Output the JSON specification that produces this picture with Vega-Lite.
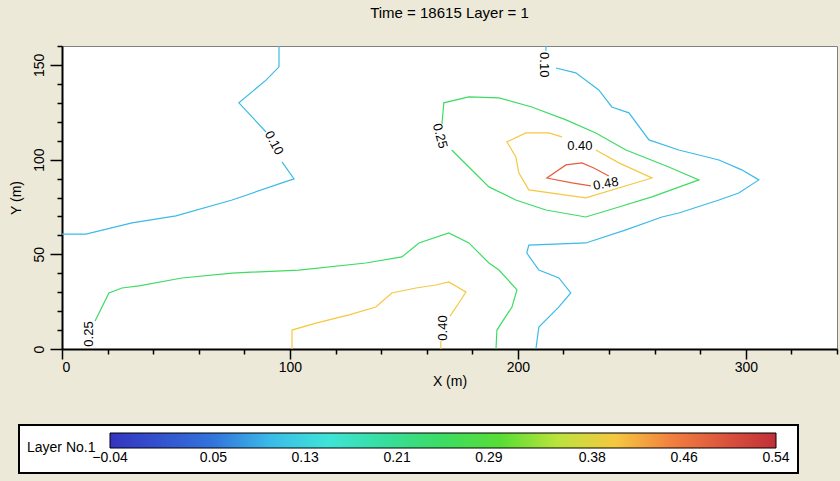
{
  "$schema": "https://vega.github.io/schema/vega-lite/v6.json",
  "autosize": {"type": "none"},
  "width": 775,
  "height": 303,
  "padding": {"left": 62, "top": 46, "right": 3, "bottom": 132},
  "background": "#ece9d8",
  "title": {"text": "Time = 18615 Layer = 1", "anchor": "middle", "offset": 24, "fontSize": 15, "fontWeight": "normal", "font": "Liberation Sans", "color": "black"},
  "config": {
    "view": {"stroke": "#808080", "strokeWidth": 1, "fill": "white"},
    "axis": {"labelFont": "Liberation Sans", "titleFont": "Liberation Sans", "labelColor": "black", "titleColor": "black", "labelFontSize": 14, "titleFontSize": 14, "titleFontWeight": "normal", "domainColor": "black", "domainWidth": 2, "tickColor": "black", "tickWidth": 1.5, "grid": false},
    "legend": {"strokeWidth": 2}
  },
  "datasets": {
    "lines": [
      {"seg": "A1", "level": 0.10, "i": 0, "x": 0, "y": 60.7},
      {"seg": "A1", "level": 0.10, "i": 1, "x": 10.5, "y": 60.7},
      {"seg": "A1", "level": 0.10, "i": 2, "x": 30.7, "y": 66.6},
      {"seg": "A1", "level": 0.10, "i": 3, "x": 50, "y": 70.3},
      {"seg": "A1", "level": 0.10, "i": 4, "x": 74.6, "y": 78.7},
      {"seg": "A1", "level": 0.10, "i": 5, "x": 96.5, "y": 87.7},
      {"seg": "A1", "level": 0.10, "i": 6, "x": 101.8, "y": 89.8},
      {"seg": "A1", "level": 0.10, "i": 7, "x": 96.5, "y": 98.8},
      {"seg": "A2", "level": 0.10, "i": 0, "x": 89.5, "y": 114.6},
      {"seg": "A2", "level": 0.10, "i": 1, "x": 77.6, "y": 130},
      {"seg": "A2", "level": 0.10, "i": 2, "x": 89.5, "y": 142},
      {"seg": "A2", "level": 0.10, "i": 3, "x": 95.2, "y": 149},
      {"seg": "A2", "level": 0.10, "i": 4, "x": 95.2, "y": 160},
      {"seg": "B1", "level": 0.10, "i": 0, "x": 212.3, "y": 160},
      {"seg": "B1", "level": 0.10, "i": 1, "x": 212.3, "y": 157.5},
      {"seg": "B2", "level": 0.10, "i": 0, "x": 216.7, "y": 148.4},
      {"seg": "B2", "level": 0.10, "i": 1, "x": 225.4, "y": 145.8},
      {"seg": "B2", "level": 0.10, "i": 2, "x": 235.5, "y": 136.8},
      {"seg": "B2", "level": 0.10, "i": 3, "x": 241.2, "y": 127.8},
      {"seg": "B2", "level": 0.10, "i": 4, "x": 248.7, "y": 124.7},
      {"seg": "B2", "level": 0.10, "i": 5, "x": 257.5, "y": 110.4},
      {"seg": "B2", "level": 0.10, "i": 6, "x": 270.6, "y": 105.1},
      {"seg": "B2", "level": 0.10, "i": 7, "x": 288.2, "y": 99.8},
      {"seg": "B2", "level": 0.10, "i": 8, "x": 298.2, "y": 94.6},
      {"seg": "B2", "level": 0.10, "i": 9, "x": 305.7, "y": 89.3},
      {"seg": "B2", "level": 0.10, "i": 10, "x": 296.9, "y": 82.4},
      {"seg": "B2", "level": 0.10, "i": 11, "x": 288.2, "y": 78.7},
      {"seg": "B2", "level": 0.10, "i": 12, "x": 270.6, "y": 71.8},
      {"seg": "B2", "level": 0.10, "i": 13, "x": 263.2, "y": 69.7},
      {"seg": "B2", "level": 0.10, "i": 14, "x": 247.4, "y": 62.9},
      {"seg": "B2", "level": 0.10, "i": 15, "x": 229.8, "y": 56},
      {"seg": "B2", "level": 0.10, "i": 16, "x": 204.8, "y": 54.9},
      {"seg": "B2", "level": 0.10, "i": 17, "x": 203.9, "y": 50.7},
      {"seg": "B2", "level": 0.10, "i": 18, "x": 209.2, "y": 41.7},
      {"seg": "B2", "level": 0.10, "i": 19, "x": 218, "y": 37.5},
      {"seg": "B2", "level": 0.10, "i": 20, "x": 223.2, "y": 29.6},
      {"seg": "B2", "level": 0.10, "i": 21, "x": 218, "y": 22.2},
      {"seg": "B2", "level": 0.10, "i": 22, "x": 209.2, "y": 11.6},
      {"seg": "B2", "level": 0.10, "i": 23, "x": 207.9, "y": 0},
      {"seg": "C", "level": 0.25, "i": 0, "x": 171, "y": 105.1},
      {"seg": "C", "level": 0.25, "i": 1, "x": 178.5, "y": 96.1},
      {"seg": "C", "level": 0.25, "i": 2, "x": 187.3, "y": 85.6},
      {"seg": "C", "level": 0.25, "i": 3, "x": 199.1, "y": 78.7},
      {"seg": "C", "level": 0.25, "i": 4, "x": 212.3, "y": 73.4},
      {"seg": "C", "level": 0.25, "i": 5, "x": 229.8, "y": 69.7},
      {"seg": "C", "level": 0.25, "i": 6, "x": 244.3, "y": 75},
      {"seg": "C", "level": 0.25, "i": 7, "x": 258.8, "y": 80.3},
      {"seg": "C", "level": 0.25, "i": 8, "x": 279.4, "y": 89.3},
      {"seg": "C", "level": 0.25, "i": 9, "x": 266.2, "y": 96.1},
      {"seg": "C", "level": 0.25, "i": 10, "x": 247.4, "y": 105.1},
      {"seg": "C", "level": 0.25, "i": 11, "x": 234.2, "y": 114.1},
      {"seg": "C", "level": 0.25, "i": 12, "x": 221.1, "y": 121},
      {"seg": "C", "level": 0.25, "i": 13, "x": 206.1, "y": 127.8},
      {"seg": "C", "level": 0.25, "i": 14, "x": 191.7, "y": 132.6},
      {"seg": "C", "level": 0.25, "i": 15, "x": 178.5, "y": 133.1},
      {"seg": "C", "level": 0.25, "i": 16, "x": 167.5, "y": 130},
      {"seg": "C", "level": 0.25, "i": 17, "x": 166.7, "y": 118.9},
      {"seg": "D", "level": 0.25, "i": 0, "x": 14.5, "y": 14.8},
      {"seg": "D", "level": 0.25, "i": 1, "x": 20.6, "y": 29.6},
      {"seg": "D", "level": 0.25, "i": 2, "x": 26.3, "y": 32.2},
      {"seg": "D", "level": 0.25, "i": 3, "x": 33.8, "y": 33.3},
      {"seg": "D", "level": 0.25, "i": 4, "x": 52.6, "y": 37.5},
      {"seg": "D", "level": 0.25, "i": 5, "x": 74.6, "y": 40.1},
      {"seg": "D", "level": 0.25, "i": 6, "x": 103.9, "y": 41.7},
      {"seg": "D", "level": 0.25, "i": 7, "x": 133.3, "y": 45.4},
      {"seg": "D", "level": 0.25, "i": 8, "x": 149.1, "y": 48.6},
      {"seg": "D", "level": 0.25, "i": 9, "x": 156.6, "y": 56},
      {"seg": "D", "level": 0.25, "i": 10, "x": 169.7, "y": 61.3},
      {"seg": "D", "level": 0.25, "i": 11, "x": 178.5, "y": 56},
      {"seg": "D", "level": 0.25, "i": 12, "x": 187.3, "y": 45.4},
      {"seg": "D", "level": 0.25, "i": 13, "x": 191.7, "y": 41.7},
      {"seg": "D", "level": 0.25, "i": 14, "x": 199.6, "y": 31.2},
      {"seg": "D", "level": 0.25, "i": 15, "x": 197.4, "y": 22.2},
      {"seg": "D", "level": 0.25, "i": 16, "x": 190.8, "y": 10},
      {"seg": "D", "level": 0.25, "i": 17, "x": 190.4, "y": 0},
      {"seg": "E", "level": 0.40, "i": 0, "x": 234.2, "y": 105.1},
      {"seg": "E", "level": 0.40, "i": 1, "x": 244.3, "y": 98.3},
      {"seg": "E", "level": 0.40, "i": 2, "x": 258.8, "y": 90.3},
      {"seg": "E", "level": 0.40, "i": 3, "x": 229.8, "y": 79.8},
      {"seg": "E", "level": 0.40, "i": 4, "x": 204.8, "y": 84},
      {"seg": "E", "level": 0.40, "i": 5, "x": 200.4, "y": 93},
      {"seg": "E", "level": 0.40, "i": 6, "x": 199.1, "y": 101.4},
      {"seg": "E", "level": 0.40, "i": 7, "x": 195.2, "y": 109.4},
      {"seg": "E", "level": 0.40, "i": 8, "x": 203.5, "y": 114.1},
      {"seg": "E", "level": 0.40, "i": 9, "x": 213.6, "y": 114.1},
      {"seg": "E", "level": 0.40, "i": 10, "x": 219.3, "y": 112},
      {"seg": "F", "level": 0.48, "i": 0, "x": 239.9, "y": 91.4},
      {"seg": "F", "level": 0.48, "i": 1, "x": 233.3, "y": 95.6},
      {"seg": "F", "level": 0.48, "i": 2, "x": 228.1, "y": 98.3},
      {"seg": "F", "level": 0.48, "i": 3, "x": 221.1, "y": 97.2},
      {"seg": "F", "level": 0.48, "i": 4, "x": 212.7, "y": 90.3},
      {"seg": "F", "level": 0.48, "i": 5, "x": 223.7, "y": 87.7},
      {"seg": "F", "level": 0.48, "i": 6, "x": 232, "y": 86.1},
      {"seg": "G1", "level": 0.40, "i": 0, "x": 100.9, "y": 0},
      {"seg": "G1", "level": 0.40, "i": 1, "x": 100.9, "y": 10},
      {"seg": "G1", "level": 0.40, "i": 2, "x": 111.4, "y": 13.7},
      {"seg": "G1", "level": 0.40, "i": 3, "x": 125.9, "y": 18},
      {"seg": "G1", "level": 0.40, "i": 4, "x": 137.7, "y": 22.2},
      {"seg": "G1", "level": 0.40, "i": 5, "x": 144.7, "y": 29.6},
      {"seg": "G1", "level": 0.40, "i": 6, "x": 155.3, "y": 32.2},
      {"seg": "G1", "level": 0.40, "i": 7, "x": 164, "y": 33.8},
      {"seg": "G1", "level": 0.40, "i": 8, "x": 169.7, "y": 35.4},
      {"seg": "G1", "level": 0.40, "i": 9, "x": 177.2, "y": 30.1},
      {"seg": "G1", "level": 0.40, "i": 10, "x": 174.1, "y": 24.3},
      {"seg": "G1", "level": 0.40, "i": 11, "x": 170.2, "y": 17.4},
      {"seg": "G2", "level": 0.40, "i": 0, "x": 166.2, "y": 4.2},
      {"seg": "G2", "level": 0.40, "i": 1, "x": 166.2, "y": 0}
    ],
    "labels": [
      {"id": "a", "text": "0.10", "x": 93, "y": 108.8},
      {"id": "b", "text": "0.10", "x": 211.4, "y": 150.1},
      {"id": "c", "text": "0.25", "x": 165.8, "y": 112.5},
      {"id": "d", "text": "0.25", "x": 11.8, "y": 7.9},
      {"id": "e", "text": "0.40", "x": 227.2, "y": 107.2},
      {"id": "f", "text": "0.48", "x": 238.6, "y": 87.2},
      {"id": "g", "text": "0.40", "x": 167.1, "y": 11.1}
    ]
  },
  "encoding": {
    "x": {
      "field": "x", "type": "quantitative",
      "scale": {"domain": [0, 340], "nice": false, "zero": false},
      "axis": {
        "title": "X (m)",
        "values": [0, 20, 40, 60, 80, 100, 120, 140, 160, 180, 200, 220, 240, 260, 280, 300, 320, 340],
        "labelExpr": "datum.value % 100 === 0 ? datum.label : ''",
        "tickSize": {"condition": {"test": "datum.value % 100 === 0", "value": 10}, "value": 5},
        "labelPadding": 1,
        "titlePadding": 0
      }
    },
    "y": {
      "field": "y", "type": "quantitative",
      "scale": {"domain": [0, 160], "nice": false, "zero": false},
      "axis": {
        "title": "Y (m)",
        "values": [0, 10, 20, 30, 40, 50, 60, 70, 80, 90, 100, 110, 120, 130, 140, 150, 160],
        "labelExpr": "datum.value % 50 === 0 ? datum.label : ''",
        "labelAngle": -90,
        "tickSize": {"condition": {"test": "datum.value % 50 === 0", "value": 12}, "value": 5},
        "labelPadding": 4,
        "titlePadding": 9
      }
    }
  },
  "layer": [
    {
      "data": {"name": "lines"},
      "mark": {"type": "line", "strokeWidth": 1.2, "clip": true},
      "encoding": {
        "detail": {"field": "seg"},
        "order": {"field": "i", "type": "quantitative"},
        "color": {
          "field": "level", "type": "quantitative",
          "scale": {
            "domain": [-0.04, 0.05, 0.13, 0.21, 0.29, 0.38, 0.46, 0.54],
            "range": ["#3434c0", "#3274dc", "#40e6ee", "#36dc90", "#44dc34", "#f6e640", "#f07040", "#c03038"],
            "interpolate": "rgb"
          },
          "legend": {
            "orient": "none", "legendX": -43, "legendY": 379,
            "direction": "horizontal",
            "gradientLength": 666, "gradientThickness": 15,
            "gradientStrokeColor": "black", "gradientStrokeWidth": 1,
            "title": "Layer No.1", "titleOrient": "left", "titleFontSize": 14, "titleFontWeight": "normal",
            "titleFont": "Liberation Sans", "titleColor": "black", "titlePadding": 14,
            "titleBaseline": "line-top", "titleLineHeight": 22,
            "values": [-0.04, 0.05, 0.13, 0.21, 0.29, 0.38, 0.46, 0.54],
            "format": ".2f", "labelAlign": "center", "labelOverlap": false,
            "labelFont": "Liberation Sans", "labelFontSize": 14, "labelColor": "black", "labelOffset": 3,
            "fillColor": "white", "strokeColor": "black", "padding": 8,
            "encode": {"labels": {"update": {"align": {"value": "center"}}}}
          }
        }
      }
    },
    {
      "data": {"name": "labels"},
      "mark": {"type": "text", "font": "Liberation Sans", "fontSize": 13, "color": "black", "align": "center", "baseline": "middle"},
      "encoding": {
        "text": {"field": "text"},
        "angle": {
          "condition": [
            {"test": "datum.id === 'a'", "value": 62},
            {"test": "datum.id === 'b'", "value": 90},
            {"test": "datum.id === 'c'", "value": 75},
            {"test": "datum.id === 'd'", "value": 270},
            {"test": "datum.id === 'f'", "value": 350},
            {"test": "datum.id === 'g'", "value": 270}
          ],
          "value": 0
        }
      }
    }
  ]
}
